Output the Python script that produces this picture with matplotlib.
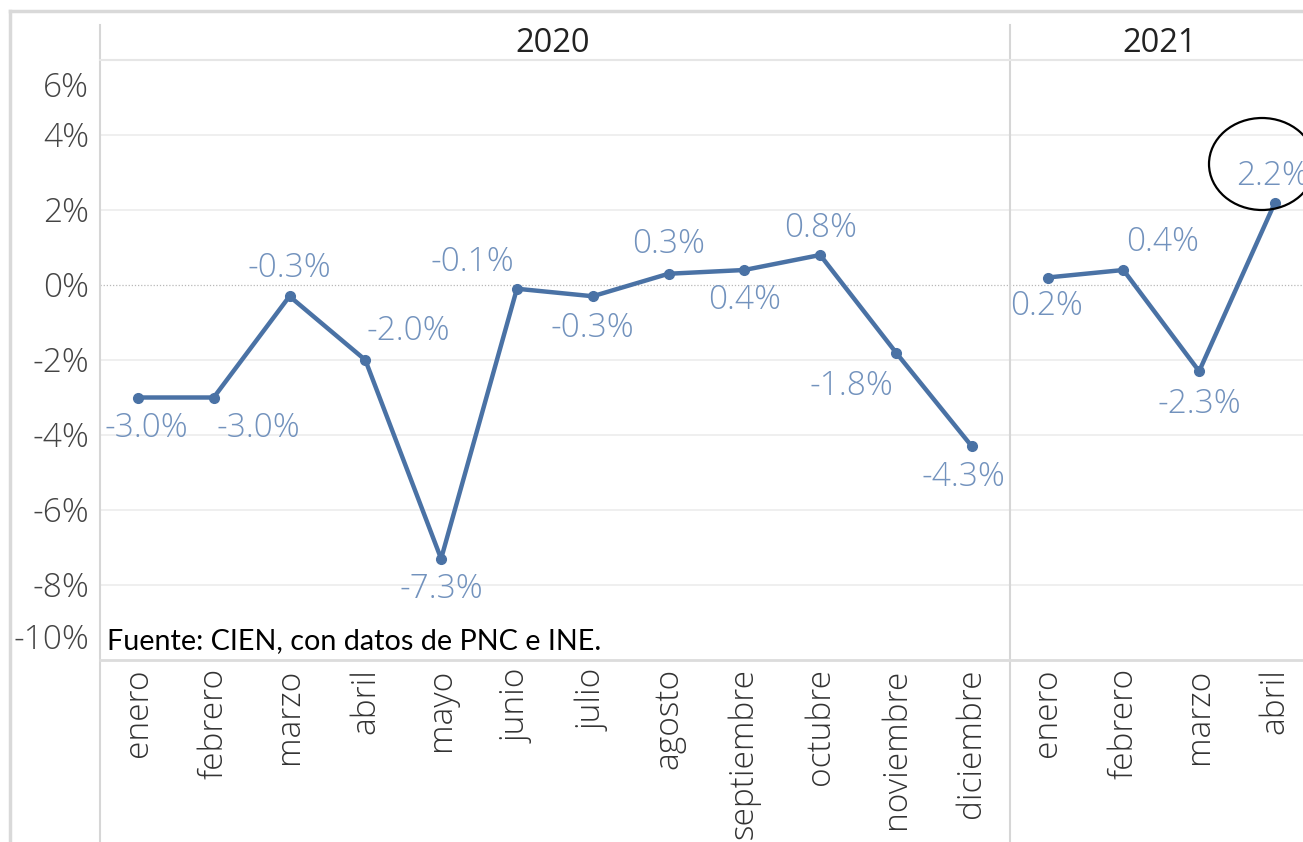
import matplotlib.pyplot as plt
import matplotlib.lines as mlines
from matplotlib.patches import Ellipse
import numpy as np

# data (monthly change, %)
meses_2020 = ['enero', 'febrero', 'marzo', 'abril', 'mayo', 'junio', 'julio',
              'agosto', 'septiembre', 'octubre', 'noviembre', 'diciembre']
meses_2021 = ['enero', 'febrero', 'marzo', 'abril']
valores_2020 = [-3.0, -3.0, -0.3, -2.0, -7.3, -0.1, -0.3, 0.3, 0.4, 0.8, -1.8, -4.3]
valores_2021 = [0.2, 0.4, -2.3, 2.2]
y_ticks = [-10, -8, -6, -4, -2, 0, 2, 4, 6]

# label offsets in points (dx, dy) for each data label
offs_2020 = [(6, -22), (32, -22), (0, 20), (31, 21), (0, -22), (-32, 19),
             (0, -23), (0, 21), (0, -22), (0, 19), (-32, -24), (-6, -22)]
offs_2021 = [(-1, -21), (28, 20), (0, -24), (-2, 19)]

line_col = '#4a72a5'
lbl_col = '#7292bd'
grid_col = '#ececec'
font = 'Open Sans'
fs = 24

plt.rcParams['font.family'] = [font, 'DejaVu Sans']

fig = plt.figure(figsize=(13.03, 8.42), dpi=100)
W, H = 1303, 842
ax = fig.add_axes([100 / W, 1 - 660 / H, 1 - 100 / W, 600 / H])

n20 = len(meses_2020)
x20 = np.arange(n20)
x21 = np.arange(len(meses_2021)) + n20

ax.set_xlim(-0.5, 15.37)
ax.set_ylim(-10, 6)

# gridlines
for v in y_ticks:
    if v == 0:
        ax.axhline(v, color='#b8b8b8', lw=0.9, ls=(0, (1, 1.5)), zorder=1)
    elif v not in (6, -10):
        ax.axhline(v, color=grid_col, lw=1.2, zorder=0)

ax.plot(x20, valores_2020, color=line_col, lw=3.2, marker='o', ms=7, zorder=3)
ax.plot(x21, valores_2021, color=line_col, lw=3.2, marker='o', ms=7, zorder=3)

for xs, vals, offs in [(x20, valores_2020, offs_2020), (x21, valores_2021, offs_2021)]:
    for x, v, (dx, dy) in zip(xs, vals, offs):
        ax.annotate(f'{v:.1f}%', (x, v), xytext=(dx, dy), textcoords='offset points',
                    ha='center', va='center', color=lbl_col, fontsize=fs,
                    fontweight='light', zorder=4)

# y labels (top and bottom ones nudged inward like the original)
yt_offs = {6: -20, -10: 14}
for v in y_ticks:
    ax.annotate(f'{v}%', (0, v), xycoords=ax.get_yaxis_transform(),
                xytext=(-8, yt_offs.get(v, -2)), textcoords='offset points',
                ha='right', va='center', color='#444444', fontsize=fs, fontweight='light')

ax.set_yticks([])
ax.set_xticks(list(x20) + list(x21))
ax.set_xticklabels(meses_2020 + meses_2021, rotation=90, fontsize=fs,
                   color='#333333', fontweight='light')
ax.tick_params(axis='x', length=0, pad=6)
for s in ax.spines.values():
    s.set_visible(False)

ax.text(0.006, -9.5, 'Fuente: CIEN, con datos de PNC e INE.',
        transform=ax.get_yaxis_transform(), fontsize=20.7, color='black',
        ha='left', va='center', family=['Lato', 'DejaVu Sans'])

# frame lines in pixel positions
def fline(x0, y0, x1, y1, c='#d6d6d6', lw=1.5):
    fig.add_artist(mlines.Line2D([x0 / W, x1 / W], [1 - y0 / H, 1 - y1 / H],
                                 color=c, lw=lw, transform=fig.transFigure))

fline(10, 11, W, 11, c='#d9d9d9', lw=2.5)
fline(10, 11, 10, H, c='#d9d9d9', lw=2.5)
fline(100, 25, 100, H)
fline(1010, 25, 1010, H)
fline(100, 60, W, 60, c='#e6e6e6')
fline(100, 660, W, 660, c='#dcdcdc', lw=2)

fig.text(553 / W, 1 - 44 / H, '2020', ha='center', va='center', fontsize=23.5, color='#222222')
fig.text(1160 / W, 1 - 44 / H, '2021', ha='center', va='center', fontsize=23.5, color='#222222')

fig.add_artist(Ellipse((1262 / W, 1 - 164 / H), width=106 / W, height=92 / H,
                       transform=fig.transFigure, fill=False, color='black', lw=1.6))

fig.savefig('out.png', dpi=100)
